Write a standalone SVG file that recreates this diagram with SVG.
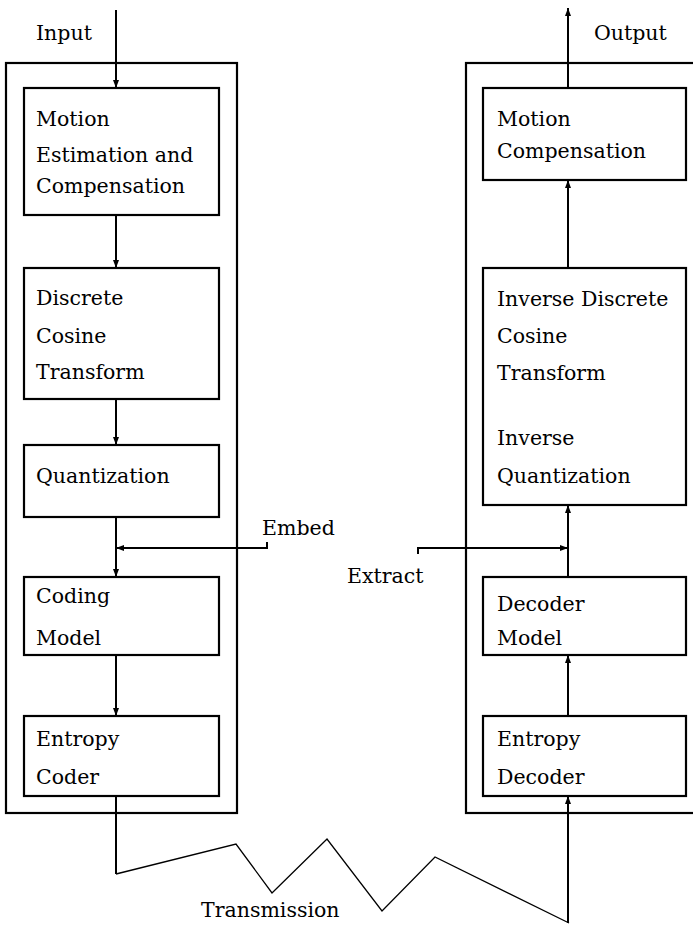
<svg xmlns="http://www.w3.org/2000/svg" width="693" height="929" viewBox="0 0 693 929">
<style>
text{font-family:"DejaVu Serif","Liberation Serif",serif;font-size:20.5px;fill:#000}
.box{fill:#fff;stroke:#000;stroke-width:2.2}
.outer{fill:none;stroke:#000;stroke-width:2.2}
.ln{fill:none;stroke:#000;stroke-width:2}
.thin{fill:none;stroke:#000;stroke-width:1.3}
</style>
<defs>
<marker id="ah" markerWidth="8" markerHeight="6" refX="8" refY="3" orient="auto" markerUnits="userSpaceOnUse">
<path d="M0,0 L8,3 L0,6 Z" fill="#000"/>
</marker>
</defs>
<g id="encoder-frame"><rect class="outer" x="6" y="63" width="231" height="750"/></g>
<g id="decoder-frame"><rect class="outer" x="466" y="63" width="240" height="750"/></g>
<g id="connectors">
<line class="ln" x1="116" y1="10" x2="116" y2="88" marker-end="url(#ah)"/>
<line class="ln" x1="116" y1="215" x2="116" y2="268" marker-end="url(#ah)"/>
<line class="ln" x1="116" y1="399" x2="116" y2="445" marker-end="url(#ah)"/>
<line class="ln" x1="116" y1="517" x2="116" y2="577" marker-end="url(#ah)"/>
<line class="ln" x1="116" y1="655" x2="116" y2="716" marker-end="url(#ah)"/>
<polyline class="ln" points="267,542 267,548 116,548" marker-end="url(#ah)"/>
<polyline class="ln" points="418,554 418,548 568,548" marker-end="url(#ah)"/>
<line class="ln" x1="568" y1="88" x2="568" y2="8" marker-end="url(#ah)"/>
<line class="ln" x1="568" y1="268" x2="568" y2="180" marker-end="url(#ah)"/>
<line class="ln" x1="568" y1="577" x2="568" y2="505" marker-end="url(#ah)"/>
<line class="ln" x1="568" y1="716" x2="568" y2="655" marker-end="url(#ah)"/>
<line class="ln" x1="116" y1="796" x2="116" y2="874"/>
<polyline class="thin" points="116,874 236,844 272,893 327,839 382,911 435,857 569,923"/>
<line class="ln" x1="568" y1="923" x2="568" y2="796" marker-end="url(#ah)"/>
</g>
<g id="labels">
<text x="36" y="40">Input</text>
<text x="594" y="40">Output</text>
<text x="262" y="535">Embed</text>
<text x="347" y="583">Extract</text>
<text x="201" y="917">Transmission</text>
</g>
<g id="motion-est"><rect class="box" x="24" y="88" width="195" height="127"/>
<text x="36" y="126">Motion</text><text x="36" y="162">Estimation and</text><text x="36" y="193">Compensation</text></g>
<g id="dct"><rect class="box" x="24" y="268" width="195" height="131"/>
<text x="36" y="305">Discrete</text><text x="36" y="343">Cosine</text><text x="36" y="379">Transform</text></g>
<g id="quant"><rect class="box" x="24" y="445" width="195" height="72"/>
<text x="36" y="483">Quantization</text></g>
<g id="coding-model"><rect class="box" x="24" y="577" width="195" height="78"/>
<text x="36" y="603">Coding</text><text x="36" y="645">Model</text></g>
<g id="entropy-coder"><rect class="box" x="24" y="716" width="195" height="80"/>
<text x="36" y="746">Entropy</text><text x="36" y="784">Coder</text></g>
<g id="motion-comp"><rect class="box" x="483" y="88" width="203" height="92"/>
<text x="497" y="126">Motion</text><text x="497" y="158">Compensation</text></g>
<g id="idct-iq"><rect class="box" x="483" y="268" width="203" height="237"/>
<text x="497" y="306">Inverse Discrete</text><text x="497" y="343">Cosine</text><text x="497" y="380">Transform</text><text x="497" y="445">Inverse</text><text x="497" y="483">Quantization</text></g>
<g id="decoder-model"><rect class="box" x="483" y="577" width="203" height="78"/>
<text x="497" y="611">Decoder</text><text x="497" y="645">Model</text></g>
<g id="entropy-decoder"><rect class="box" x="483" y="716" width="203" height="80"/>
<text x="497" y="746">Entropy</text><text x="497" y="784">Decoder</text></g>
</svg>
